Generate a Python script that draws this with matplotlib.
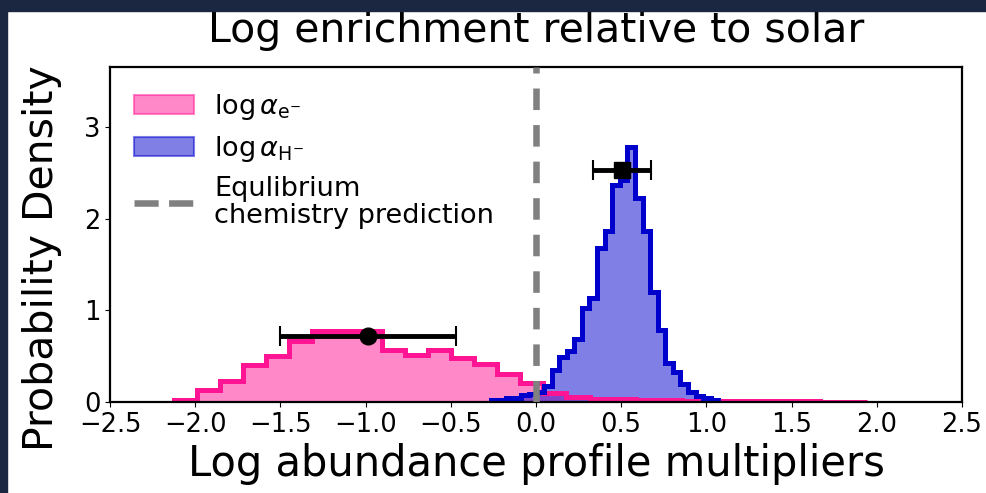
import numpy as np
import matplotlib.pyplot as plt
from matplotlib.lines import Line2D
from matplotlib.patches import Rectangle

# posterior histograms, 30 bins each (density)
e_range = (-2.125, 1.94)
e_density = [0.02, 0.13, 0.23, 0.40, 0.50, 0.67, 0.77, 0.77, 0.77, 0.57,
             0.51, 0.57, 0.48, 0.41, 0.31, 0.21, 0.095, 0.05, 0.03, 0.03,
             0.025, 0.02, 0.015, 0.01, 0.01, 0.01, 0.01, 0.01, 0.005, 0.005]
h_range = (-0.265, 1.07)
h_density = [0.02, 0.02, 0.04, 0.04, 0.076, 0.09, 0.11, 0.17, 0.35, 0.49,
             0.56, 0.69, 1.02, 1.13, 1.68, 1.86, 2.37, 2.42, 2.78, 2.22,
             1.86, 1.20, 0.785, 0.42, 0.33, 0.20, 0.11, 0.065, 0.04, 0.02]

# median and 1-sigma width, drawn at the given height
e_med, e_sig, e_y = -0.985, 0.517, 0.72
h_med, h_sig, h_y = 0.505, 0.172, 2.53

equilibrium = 0.0

e_edges = np.linspace(e_range[0], e_range[1], len(e_density) + 1)
h_edges = np.linspace(h_range[0], h_range[1], len(h_density) + 1)

fig = plt.figure(figsize=(9.86, 4.93), dpi=100)
ax = fig.add_axes([0.1116, 0.1846, 0.8641, 0.6789])

pink = "deeppink"
blue = "mediumblue"

ax.stairs(e_density, e_edges, fill=True, fc=pink, ec=pink, lw=1.5, alpha=0.5,
          label=r"$\log\alpha_{\rm e^{-}}$")
ax.stairs(h_density, h_edges, fill=True, fc=blue, ec=blue, lw=1.5, alpha=0.5,
          label=r"$\log\alpha_{\rm H^{-}}$")
ax.stairs(e_density, e_edges, color=pink, lw=3.6)
ax.stairs(h_density, h_edges, color=blue, lw=3.6)

ax.axvline(equilibrium, color="gray", lw=4.7, dashes=(3.3, 2.3), zorder=4)

ax.errorbar(e_med, e_y, xerr=e_sig, fmt="o", color="k", ms=12,
            elinewidth=3.5, capsize=7, capthick=1.5, zorder=5)
ax.errorbar(h_med, h_y, xerr=h_sig, fmt="s", color="k", ms=12,
            elinewidth=3.5, capsize=7, capthick=1.5, zorder=5)

ax.set_xlim(-2.5, 2.5)
ax.set_ylim(0, 3.65)
ax.set_xticks(np.arange(-2.5, 2.51, 0.5))
ax.set_yticks([0, 1, 2, 3])
ax.tick_params(labelsize=18.5)
for s in ax.spines.values():
    s.set_linewidth(1.6)

ax.set_title("Log enrichment relative to solar", fontsize=29.5, pad=18)
ax.set_xlabel("Log abundance profile multipliers", fontsize=30)
ax.set_ylabel("Probability Density", fontsize=29.5)
ax.yaxis.set_label_coords(-0.056, 0.43)

handles, labels = ax.get_legend_handles_labels()
handles.append(Line2D([], [], color="gray", lw=4.7, ls="--"))
labels.append("Equlibrium\nchemistry prediction")
leg = ax.legend(handles, labels, loc="upper left", frameon=False,
                fontsize=19.5, handlelength=2.2, handletextpad=0.75,
                borderaxespad=0.5, labelspacing=0.45)
for t in leg.get_texts():
    t.set_linespacing(1.07)

# slide background around the figure
navy = "#1b2641"
fig.patches.append(Rectangle((0, 1 - 11 / 493), 1, 11 / 493,
                             transform=fig.transFigure, color=navy, zorder=10))
fig.patches.append(Rectangle((0, 0), 7 / 986, 1,
                             transform=fig.transFigure, color=navy, zorder=10))

fig.savefig("out.png", dpi=100)
